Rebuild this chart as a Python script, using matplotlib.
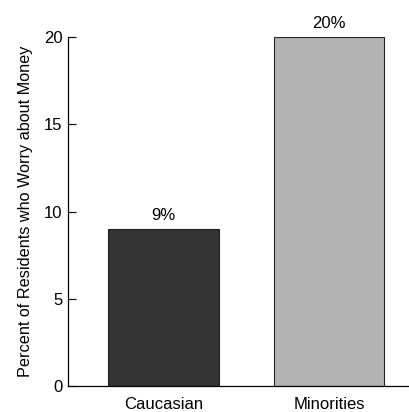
import matplotlib
matplotlib.use("Agg")
import matplotlib.pyplot as plt

categories = ["Caucasian", "Minorities"]
values = [9, 20]
value_labels = ["9%", "20%"]
colors = ["#333333", "#b3b3b3"]
yticks = [0, 5, 10, 15, 20]

plt.rcParams['font.family'] = ['Liberation Sans', 'DejaVu Sans']

fig = plt.figure(figsize=(4.10, 4.12), dpi=100)
ax = fig.add_axes([68/410, 1-386/412, 1-68/410, (386-37)/412])

x = list(range(len(categories)))
bars = ax.bar(x, values, width=0.667, color=colors, edgecolor="#222222", linewidth=0.8)
for xi, v, lab in zip(x, values, value_labels):
    ax.annotate(lab, (xi, v), xytext=(0, 4), textcoords="offset points",
                ha="center", va="bottom", fontsize=12)

ax.set_xlim(-0.577, 1.489)
ax.set_ylim(0, 20)
ax.set_yticks(yticks)
ax.set_xticks(x)
ax.set_xticklabels(categories, fontsize=12)
ax.tick_params(axis='y', direction='in', length=6, width=0.8, pad=4, labelsize=12)
ax.tick_params(axis='x', length=0, pad=8)
ax.spines['top'].set_visible(False)
ax.spines['right'].set_visible(False)
ax.spines['left'].set_linewidth(0.9)
ax.spines['bottom'].set_linewidth(0.9)
ax.set_ylabel("Percent of Residents who Worry about Money", fontsize=11.7, labelpad=8)

fig.savefig("out.png", dpi=100)
